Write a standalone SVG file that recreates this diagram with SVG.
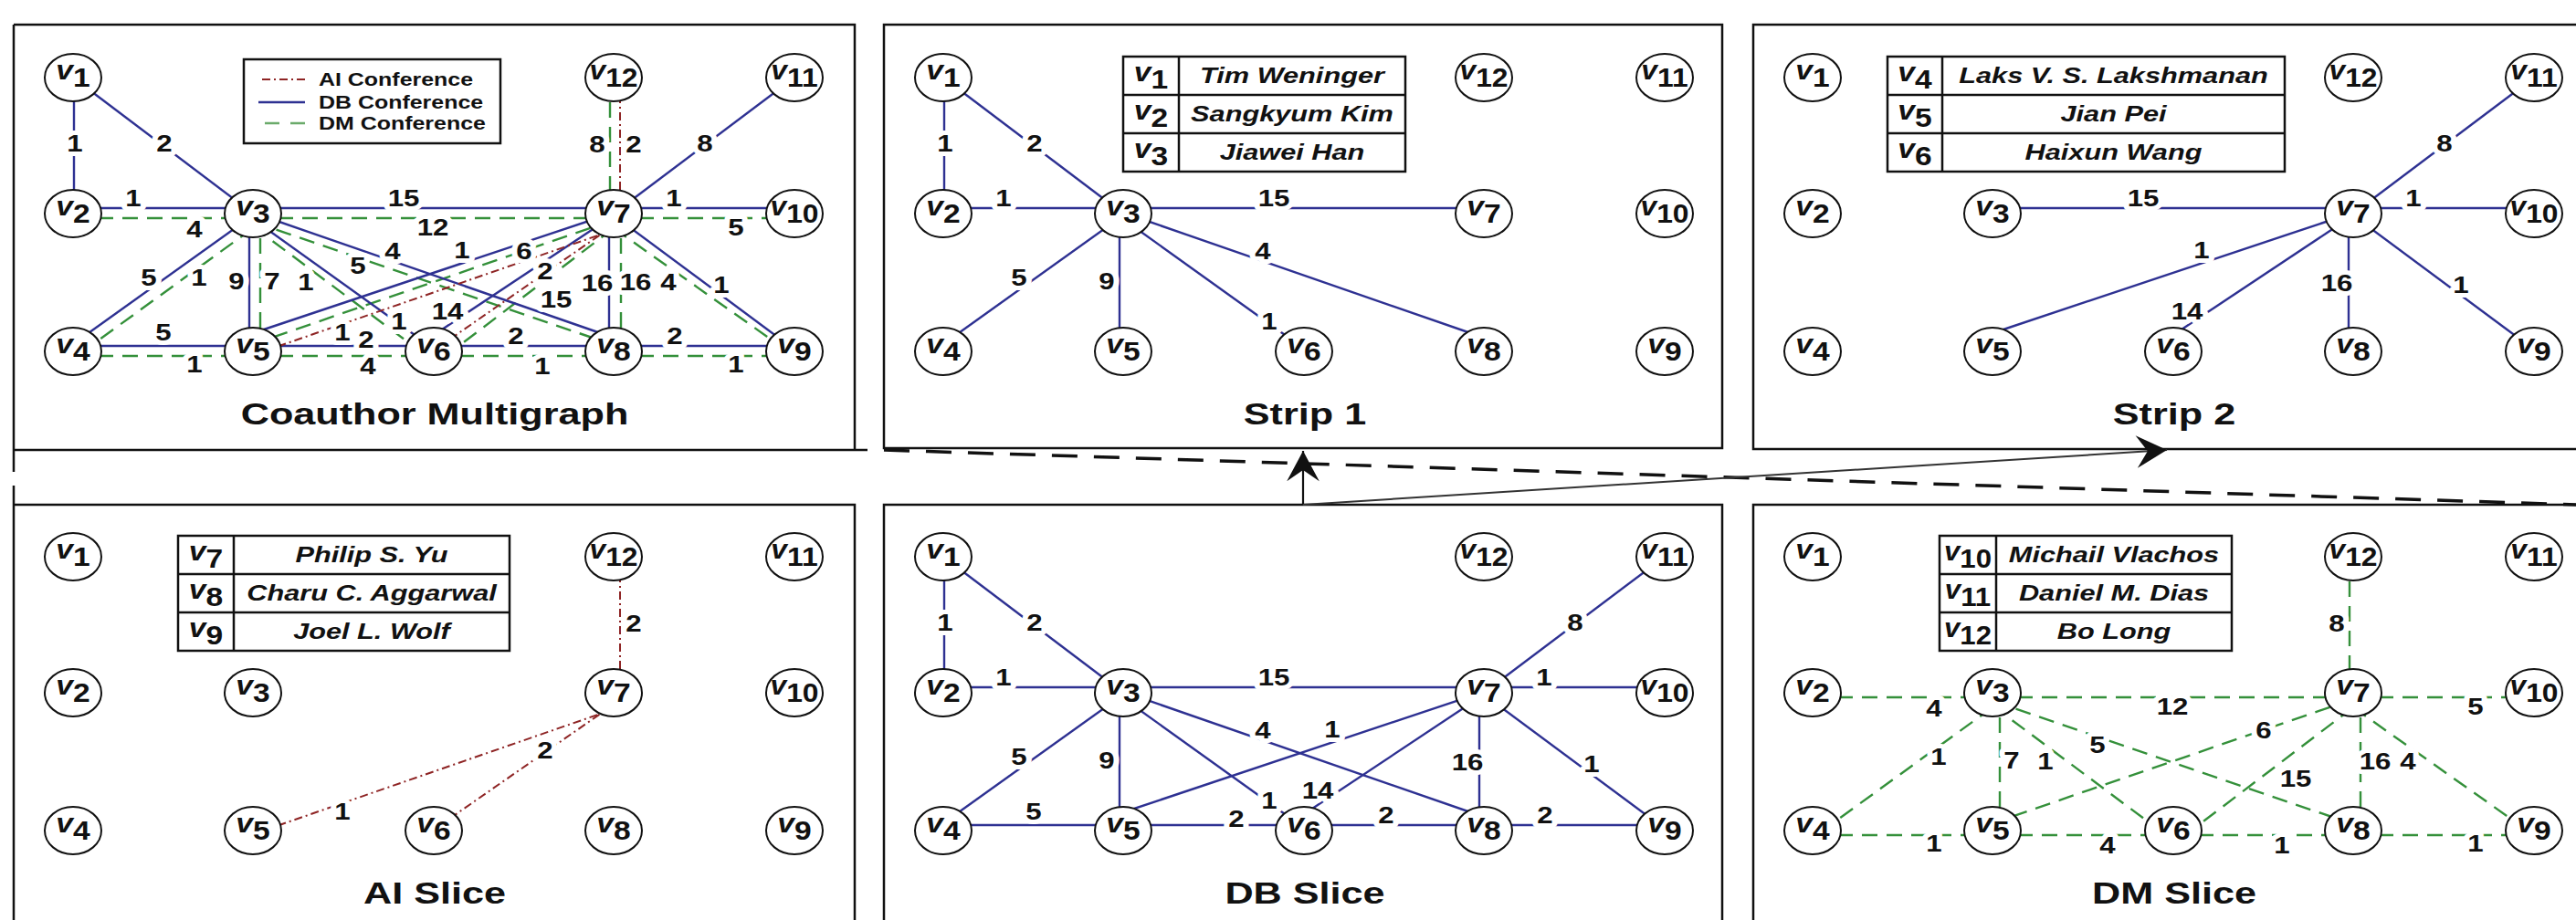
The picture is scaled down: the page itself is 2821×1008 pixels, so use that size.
<svg xmlns="http://www.w3.org/2000/svg" width="2821" height="1008" viewBox="0 0 2821 1008">
<style>
  .frame{fill:none;stroke:#111;stroke-width:2.5}
  .db{stroke:#2e3192;stroke-width:2.4;fill:none}
  .dm{stroke:#34903a;stroke-width:2.4;stroke-dasharray:17 10;fill:none}
  .ai{stroke:#8e2424;stroke-width:2;stroke-dasharray:9 4 2 4;fill:none}
  .nd ellipse{fill:#fff;stroke:#111;stroke-width:2}
  text{font-family:"Liberation Sans",Arial,Helvetica,sans-serif;fill:#111;font-weight:bold}
  .nd text,.tv{font-size:30px;text-anchor:middle}
  .v{font-style:italic}
  .lbl{font-size:26px;text-anchor:middle;stroke:#fff;stroke-width:10;stroke-linejoin:round;paint-order:stroke}
  .ttl{font-size:34px;text-anchor:middle}
  .nm{font-size:24px;font-style:italic;text-anchor:middle}
  .lg{font-size:19.5px}
  .tab{fill:none;stroke:#111;stroke-width:2.5}
</style>
<defs>
  <marker id="ah" markerUnits="userSpaceOnUse" markerWidth="40" markerHeight="40" viewBox="-32 -18 34 36" refX="0" refY="0" orient="auto">
    <path d="M0,0 L-30,-16 L-19,0 L-30,16 Z" fill="#111"/>
  </marker>
  <!-- DB conference edges -->
  <line id="L-db12" class="db" x1="81" y1="85" x2="81" y2="234"/>
  <line id="L-db13" class="db" x1="80" y1="85" x2="277" y2="234"/>
  <line id="L-db23" class="db" x1="80" y1="228" x2="277" y2="228"/>
  <line id="L-db37" class="db" x1="277" y1="228" x2="672" y2="228"/>
  <line id="L-db710" class="db" x1="672" y1="228" x2="870" y2="228"/>
  <line id="L-db711" class="db" x1="672" y1="234" x2="870" y2="85"/>
  <line id="L-db34" class="db" x1="277" y1="236" x2="80" y2="377"/>
  <line id="L-db35" class="db" x1="273" y1="234" x2="273" y2="385"/>
  <line id="L-db36" class="db" x1="277" y1="240" x2="475" y2="382"/>
  <line id="L-db38" class="db" x1="277" y1="233" x2="672" y2="370"/>
  <line id="L-db75" class="db" x1="672" y1="233" x2="277" y2="365"/>
  <line id="L-db76" class="db" x1="672" y1="236" x2="475" y2="367"/>
  <line id="L-db78" class="db" x1="667" y1="234" x2="667" y2="385"/>
  <line id="L-db79" class="db" x1="672" y1="236" x2="870" y2="383"/>
  <line id="L-db45" class="db" x1="80" y1="379" x2="277" y2="379"/>
  <line id="L-db56" class="db" x1="277" y1="379" x2="475" y2="379"/>
  <line id="L-db68" class="db" x1="475" y1="379" x2="672" y2="379"/>
  <line id="L-db89" class="db" x1="672" y1="379" x2="870" y2="379"/>
  <!-- DM conference edges -->
  <line id="L-dm23" class="dm" x1="80" y1="239" x2="277" y2="239"/>
  <line id="L-dm37" class="dm" x1="277" y1="239" x2="672" y2="239"/>
  <line id="L-dm710" class="dm" x1="672" y1="239" x2="870" y2="239"/>
  <line id="L-dm712" class="dm" x1="668" y1="85" x2="668" y2="234"/>
  <line id="L-dm34" class="dm" x1="277" y1="250" x2="80" y2="393"/>
  <line id="L-dm35" class="dm" x1="285" y1="234" x2="285" y2="385"/>
  <line id="L-dm36" class="dm" x1="277" y1="248" x2="475" y2="396"/>
  <line id="L-dm38" class="dm" x1="277" y1="243" x2="672" y2="378"/>
  <line id="L-dm75" class="dm" x1="672" y1="241" x2="277" y2="377"/>
  <line id="L-dm76" class="dm" x1="672" y1="250" x2="475" y2="400"/>
  <line id="L-dm78" class="dm" x1="680" y1="234" x2="680" y2="385"/>
  <line id="L-dm79" class="dm" x1="672" y1="250" x2="870" y2="390"/>
  <line id="L-dm45" class="dm" x1="80" y1="390" x2="277" y2="390"/>
  <line id="L-dm56" class="dm" x1="277" y1="390" x2="475" y2="390"/>
  <line id="L-dm68" class="dm" x1="475" y1="390" x2="672" y2="390"/>
  <line id="L-dm89" class="dm" x1="672" y1="390" x2="870" y2="390"/>
  <!-- AI conference edges -->
  <line id="L-ai712" class="ai" x1="679" y1="85" x2="679" y2="234"/>
  <line id="L-ai75" class="ai" x1="672" y1="252" x2="277" y2="389"/>
  <line id="L-ai76" class="ai" x1="672" y1="247" x2="475" y2="384"/>
  <!-- edge weights -->
  <text id="T-db12" class="lbl" transform="translate(82,166) scale(1.2,1)">1</text>
  <text id="T-db13" class="lbl" transform="translate(180,166) scale(1.2,1)">2</text>
  <text id="T-db23" class="lbl" transform="translate(146,226) scale(1.2,1)">1</text>
  <text id="T-db37" class="lbl" transform="translate(442,226) scale(1.2,1)">15</text>
  <text id="T-db710" class="lbl" transform="translate(738,226) scale(1.2,1)">1</text>
  <text id="T-db711" class="lbl" transform="translate(772,166) scale(1.2,1)">8</text>
  <text id="T-db34" class="lbl" transform="translate(163,313) scale(1.2,1)">5</text>
  <text id="T-db35" class="lbl" transform="translate(259,317) scale(1.2,1)">9</text>
  <text id="T-db36" class="lbl" transform="translate(437,361) scale(1.2,1)">1</text>
  <text id="T-db38" class="lbl" transform="translate(430,284) scale(1.2,1)">4</text>
  <text id="T-db75" class="lbl" transform="translate(506,283) scale(1.2,1)">1</text>
  <text id="T-db76" class="lbl" transform="translate(490,350) scale(1.2,1)">14</text>
  <text id="T-db78" class="lbl" transform="translate(654,319) scale(1.2,1)">16</text>
  <text id="T-db79" class="lbl" transform="translate(790,321) scale(1.2,1)">1</text>
  <text id="T-db45" class="lbl" transform="translate(179,373) scale(1.2,1)">5</text>
  <text id="T-db56" class="lbl" transform="translate(401,381) scale(1.2,1)">2</text>
  <text id="T-db68" class="lbl" transform="translate(565,377) scale(1.2,1)">2</text>
  <text id="T-db89" class="lbl" transform="translate(739,377) scale(1.2,1)">2</text>
  <text id="T-dm23" class="lbl" transform="translate(213,260) scale(1.2,1)">4</text>
  <text id="T-dm37" class="lbl" transform="translate(474,258) scale(1.2,1)">12</text>
  <text id="T-dm710" class="lbl" transform="translate(806,258) scale(1.2,1)">5</text>
  <text id="T-dm712" class="lbl" transform="translate(654,167) scale(1.2,1)">8</text>
  <text id="T-dm34" class="lbl" transform="translate(218,313) scale(1.2,1)">1</text>
  <text id="T-dm35" class="lbl" transform="translate(298,317) scale(1.2,1)">7</text>
  <text id="T-dm36" class="lbl" transform="translate(335,318) scale(1.2,1)">1</text>
  <text id="T-dm38" class="lbl" transform="translate(392,300) scale(1.2,1)">5</text>
  <text id="T-dm75" class="lbl" transform="translate(574,284) scale(1.2,1)">6</text>
  <text id="T-dm76" class="lbl" transform="translate(609,337) scale(1.2,1)">15</text>
  <text id="T-dm78" class="lbl" transform="translate(696,318) scale(1.2,1)">16</text>
  <text id="T-dm79" class="lbl" transform="translate(732,318) scale(1.2,1)">4</text>
  <text id="T-dm45" class="lbl" transform="translate(213,408) scale(1.2,1)">1</text>
  <text id="T-dm56" class="lbl" transform="translate(403,410) scale(1.2,1)">4</text>
  <text id="T-dm68" class="lbl" transform="translate(594,410) scale(1.2,1)">1</text>
  <text id="T-dm89" class="lbl" transform="translate(806,408) scale(1.2,1)">1</text>
  <text id="T-ai712" class="lbl" transform="translate(694,167) scale(1.2,1)">2</text>
  <text id="T-ai75" class="lbl" transform="translate(375,373) scale(1.2,1)">1</text>
  <text id="T-ai76" class="lbl" transform="translate(597,306) scale(1.2,1)">2</text>
</defs>

<rect width="2821" height="1008" fill="#fff"/>

<!-- panel frames and the arrows between them -->
<g id="frames">
  <path class="frame" d="M15,27 V517 M15,27 H936 V493 M15,493 H950"/>
  <rect class="frame" x="968" y="27" width="918" height="464"/>
  <rect class="frame" x="1920" y="27" width="930" height="465"/>
  <path class="frame" d="M15,532 V1020 M15,553 H936 V1020"/>
  <rect class="frame" x="968" y="553" width="918" height="500"/>
  <rect class="frame" x="1920" y="553" width="930" height="500"/>
</g>
<g id="flow">
  <line x1="968" y1="493" x2="2821" y2="553" stroke="#111" stroke-width="3.5" stroke-dasharray="28 18"/>
  <line x1="1427" y1="553" x2="1427" y2="494" stroke="#111" stroke-width="2.2" marker-end="url(#ah)"/>
  <line x1="1427" y1="553" x2="2373" y2="493" stroke="#333" stroke-width="2" marker-end="url(#ah)"/>
</g>

<!-- Coauthor Multigraph -->
<g id="panel-multigraph">
  <g id="mg-connectors">
    <use href="#L-dm23"/><use href="#L-dm37"/><use href="#L-dm710"/><use href="#L-dm712"/><use href="#L-dm34"/><use href="#L-dm35"/><use href="#L-dm36"/><use href="#L-dm38"/><use href="#L-dm75"/><use href="#L-dm76"/><use href="#L-dm78"/><use href="#L-dm79"/><use href="#L-dm45"/><use href="#L-dm56"/><use href="#L-dm68"/><use href="#L-dm89"/>
    <use href="#L-db12"/><use href="#L-db13"/><use href="#L-db23"/><use href="#L-db37"/><use href="#L-db710"/><use href="#L-db711"/><use href="#L-db34"/><use href="#L-db35"/><use href="#L-db36"/><use href="#L-db38"/><use href="#L-db75"/><use href="#L-db76"/><use href="#L-db78"/><use href="#L-db79"/><use href="#L-db45"/><use href="#L-db56"/><use href="#L-db68"/><use href="#L-db89"/>
    <use href="#L-ai712"/><use href="#L-ai75"/><use href="#L-ai76"/>
    <use href="#T-dm23"/><use href="#T-dm37"/><use href="#T-dm710"/><use href="#T-dm712"/><use href="#T-dm34"/><use href="#T-dm35"/><use href="#T-dm36"/><use href="#T-dm38"/><use href="#T-dm75"/><use href="#T-dm76"/><use href="#T-dm78"/><use href="#T-dm79"/><use href="#T-dm45"/><use href="#T-dm56"/><use href="#T-dm68"/><use href="#T-dm89"/>
    <use href="#T-db12"/><use href="#T-db13"/><use href="#T-db23"/><use href="#T-db37"/><use href="#T-db710"/><use href="#T-db711"/><use href="#T-db34"/><use href="#T-db35"/><use href="#T-db36"/><use href="#T-db38"/><use href="#T-db75"/><use href="#T-db76"/><use href="#T-db78"/><use href="#T-db79"/><use href="#T-db45"/><use href="#T-db56"/><use href="#T-db68"/><use href="#T-db89"/>
    <use href="#T-ai712"/><use href="#T-ai75"/><use href="#T-ai76"/>
  </g>
  <g id="mg-legend">
    <rect class="tab" x="267" y="65" width="281" height="92"/>
    <line class="ai" x1="287" y1="87" x2="335" y2="87"/>
    <line class="db" x1="283" y1="112" x2="334" y2="112"/>
    <line class="dm" x1="290" y1="135" x2="334" y2="135" style="stroke:#6aaa6a;stroke-dasharray:16 12"/>
    <text class="lg" transform="translate(349,94) scale(1.28,1)">AI Conference</text>
    <text class="lg" transform="translate(349,119) scale(1.28,1)">DB Conference</text>
    <text class="lg" transform="translate(349,142) scale(1.28,1)">DM Conference</text>
  </g>
  <g id="mg-v1" class="nd" transform="translate(80,85)"><ellipse rx="31" ry="26"/><text y="2" transform="scale(1.12,1)"><tspan class="v">v</tspan><tspan dy="8">1</tspan></text></g>
  <g id="mg-v12" class="nd" transform="translate(672,85)"><ellipse rx="31" ry="26"/><text y="2" transform="scale(1.06,1)"><tspan class="v">v</tspan><tspan dy="8">12</tspan></text></g>
  <g id="mg-v11" class="nd" transform="translate(870,85)"><ellipse rx="31" ry="26"/><text y="2" transform="scale(1.06,1)"><tspan class="v">v</tspan><tspan dy="8">11</tspan></text></g>
  <g id="mg-v2" class="nd" transform="translate(80,234)"><ellipse rx="31" ry="26"/><text y="2" transform="scale(1.12,1)"><tspan class="v">v</tspan><tspan dy="8">2</tspan></text></g>
  <g id="mg-v3" class="nd" transform="translate(277,234)"><ellipse rx="31" ry="26"/><text y="2" transform="scale(1.12,1)"><tspan class="v">v</tspan><tspan dy="8">3</tspan></text></g>
  <g id="mg-v7" class="nd" transform="translate(672,234)"><ellipse rx="31" ry="26"/><text y="2" transform="scale(1.12,1)"><tspan class="v">v</tspan><tspan dy="8">7</tspan></text></g>
  <g id="mg-v10" class="nd" transform="translate(870,234)"><ellipse rx="31" ry="26"/><text y="2" transform="scale(1.06,1)"><tspan class="v">v</tspan><tspan dy="8">10</tspan></text></g>
  <g id="mg-v4" class="nd" transform="translate(80,385)"><ellipse rx="31" ry="26"/><text y="2" transform="scale(1.12,1)"><tspan class="v">v</tspan><tspan dy="8">4</tspan></text></g>
  <g id="mg-v5" class="nd" transform="translate(277,385)"><ellipse rx="31" ry="26"/><text y="2" transform="scale(1.12,1)"><tspan class="v">v</tspan><tspan dy="8">5</tspan></text></g>
  <g id="mg-v6" class="nd" transform="translate(475,385)"><ellipse rx="31" ry="26"/><text y="2" transform="scale(1.12,1)"><tspan class="v">v</tspan><tspan dy="8">6</tspan></text></g>
  <g id="mg-v8" class="nd" transform="translate(672,385)"><ellipse rx="31" ry="26"/><text y="2" transform="scale(1.12,1)"><tspan class="v">v</tspan><tspan dy="8">8</tspan></text></g>
  <g id="mg-v9" class="nd" transform="translate(870,385)"><ellipse rx="31" ry="26"/><text y="2" transform="scale(1.12,1)"><tspan class="v">v</tspan><tspan dy="8">9</tspan></text></g>
  <text class="ttl" transform="translate(476,465) scale(1.27,1)">Coauthor Multigraph</text>
</g>

<!-- Strip 1 -->
<g id="panel-strip1" transform="translate(953,0)">
  <g id="s1-connectors">
    <use href="#L-db12"/><use href="#L-db13"/><use href="#L-db23"/><use href="#L-db37"/><use href="#L-db34"/><use href="#L-db35"/><use href="#L-db36"/><use href="#L-db38"/>
    <use href="#T-db12"/><use href="#T-db13"/><use href="#T-db23"/><use href="#T-db37"/><use href="#T-db34"/><use href="#T-db35"/><use href="#T-db36"/><use href="#T-db38"/>
  </g>
  <g id="s1-names">
    <rect class="tab" x="277" y="62" width="309" height="126"/>
    <path class="tab" d="M338,62 V188 M277,104 H586 M277,146 H586"/>
    <text class="tv" transform="translate(307.5,89) scale(1.12,1)"><tspan class="v">v</tspan><tspan dy="8">1</tspan></text>
    <text class="tv" transform="translate(307.5,131) scale(1.12,1)"><tspan class="v">v</tspan><tspan dy="8">2</tspan></text>
    <text class="tv" transform="translate(307.5,173) scale(1.12,1)"><tspan class="v">v</tspan><tspan dy="8">3</tspan></text>
    <text class="nm" transform="translate(462,91) scale(1.28,1)">Tim Weninger</text>
    <text class="nm" transform="translate(462,133) scale(1.28,1)">Sangkyum Kim</text>
    <text class="nm" transform="translate(462,175) scale(1.28,1)">Jiawei Han</text>
  </g>
  <g id="s1-v1" class="nd" transform="translate(80,85)"><ellipse rx="31" ry="26"/><text y="2" transform="scale(1.12,1)"><tspan class="v">v</tspan><tspan dy="8">1</tspan></text></g>
  <g id="s1-v12" class="nd" transform="translate(672,85)"><ellipse rx="31" ry="26"/><text y="2" transform="scale(1.06,1)"><tspan class="v">v</tspan><tspan dy="8">12</tspan></text></g>
  <g id="s1-v11" class="nd" transform="translate(870,85)"><ellipse rx="31" ry="26"/><text y="2" transform="scale(1.06,1)"><tspan class="v">v</tspan><tspan dy="8">11</tspan></text></g>
  <g id="s1-v2" class="nd" transform="translate(80,234)"><ellipse rx="31" ry="26"/><text y="2" transform="scale(1.12,1)"><tspan class="v">v</tspan><tspan dy="8">2</tspan></text></g>
  <g id="s1-v3" class="nd" transform="translate(277,234)"><ellipse rx="31" ry="26"/><text y="2" transform="scale(1.12,1)"><tspan class="v">v</tspan><tspan dy="8">3</tspan></text></g>
  <g id="s1-v7" class="nd" transform="translate(672,234)"><ellipse rx="31" ry="26"/><text y="2" transform="scale(1.12,1)"><tspan class="v">v</tspan><tspan dy="8">7</tspan></text></g>
  <g id="s1-v10" class="nd" transform="translate(870,234)"><ellipse rx="31" ry="26"/><text y="2" transform="scale(1.06,1)"><tspan class="v">v</tspan><tspan dy="8">10</tspan></text></g>
  <g id="s1-v4" class="nd" transform="translate(80,385)"><ellipse rx="31" ry="26"/><text y="2" transform="scale(1.12,1)"><tspan class="v">v</tspan><tspan dy="8">4</tspan></text></g>
  <g id="s1-v5" class="nd" transform="translate(277,385)"><ellipse rx="31" ry="26"/><text y="2" transform="scale(1.12,1)"><tspan class="v">v</tspan><tspan dy="8">5</tspan></text></g>
  <g id="s1-v6" class="nd" transform="translate(475,385)"><ellipse rx="31" ry="26"/><text y="2" transform="scale(1.12,1)"><tspan class="v">v</tspan><tspan dy="8">6</tspan></text></g>
  <g id="s1-v8" class="nd" transform="translate(672,385)"><ellipse rx="31" ry="26"/><text y="2" transform="scale(1.12,1)"><tspan class="v">v</tspan><tspan dy="8">8</tspan></text></g>
  <g id="s1-v9" class="nd" transform="translate(870,385)"><ellipse rx="31" ry="26"/><text y="2" transform="scale(1.12,1)"><tspan class="v">v</tspan><tspan dy="8">9</tspan></text></g>
  <text class="ttl" transform="translate(476,465) scale(1.27,1)">Strip 1</text>
</g>

<!-- Strip 2 -->
<g id="panel-strip2" transform="translate(1905,0)">
  <g id="s2-connectors">
    <use href="#L-db37"/><use href="#L-db711"/><use href="#L-db710"/><use href="#L-db75"/><use href="#L-db76"/><use href="#L-db78"/><use href="#L-db79"/>
    <use href="#T-db37"/><use href="#T-db711"/><use href="#T-db710"/><use href="#T-db75"/><use href="#T-db76"/><use href="#T-db78"/><use href="#T-db79"/>
  </g>
  <g id="s2-names">
    <rect class="tab" x="162" y="62" width="435" height="126"/>
    <path class="tab" d="M222,62 V188 M162,104 H597 M162,146 H597"/>
    <text class="tv" transform="translate(192,89) scale(1.12,1)"><tspan class="v">v</tspan><tspan dy="8">4</tspan></text>
    <text class="tv" transform="translate(192,131) scale(1.12,1)"><tspan class="v">v</tspan><tspan dy="8">5</tspan></text>
    <text class="tv" transform="translate(192,173) scale(1.12,1)"><tspan class="v">v</tspan><tspan dy="8">6</tspan></text>
    <text class="nm" transform="translate(409.5,91) scale(1.28,1)">Laks V. S. Lakshmanan</text>
    <text class="nm" transform="translate(409.5,133) scale(1.28,1)">Jian Pei</text>
    <text class="nm" transform="translate(409.5,175) scale(1.28,1)">Haixun Wang</text>
  </g>
  <g id="s2-v1" class="nd" transform="translate(80,85)"><ellipse rx="31" ry="26"/><text y="2" transform="scale(1.12,1)"><tspan class="v">v</tspan><tspan dy="8">1</tspan></text></g>
  <g id="s2-v12" class="nd" transform="translate(672,85)"><ellipse rx="31" ry="26"/><text y="2" transform="scale(1.06,1)"><tspan class="v">v</tspan><tspan dy="8">12</tspan></text></g>
  <g id="s2-v11" class="nd" transform="translate(870,85)"><ellipse rx="31" ry="26"/><text y="2" transform="scale(1.06,1)"><tspan class="v">v</tspan><tspan dy="8">11</tspan></text></g>
  <g id="s2-v2" class="nd" transform="translate(80,234)"><ellipse rx="31" ry="26"/><text y="2" transform="scale(1.12,1)"><tspan class="v">v</tspan><tspan dy="8">2</tspan></text></g>
  <g id="s2-v3" class="nd" transform="translate(277,234)"><ellipse rx="31" ry="26"/><text y="2" transform="scale(1.12,1)"><tspan class="v">v</tspan><tspan dy="8">3</tspan></text></g>
  <g id="s2-v7" class="nd" transform="translate(672,234)"><ellipse rx="31" ry="26"/><text y="2" transform="scale(1.12,1)"><tspan class="v">v</tspan><tspan dy="8">7</tspan></text></g>
  <g id="s2-v10" class="nd" transform="translate(870,234)"><ellipse rx="31" ry="26"/><text y="2" transform="scale(1.06,1)"><tspan class="v">v</tspan><tspan dy="8">10</tspan></text></g>
  <g id="s2-v4" class="nd" transform="translate(80,385)"><ellipse rx="31" ry="26"/><text y="2" transform="scale(1.12,1)"><tspan class="v">v</tspan><tspan dy="8">4</tspan></text></g>
  <g id="s2-v5" class="nd" transform="translate(277,385)"><ellipse rx="31" ry="26"/><text y="2" transform="scale(1.12,1)"><tspan class="v">v</tspan><tspan dy="8">5</tspan></text></g>
  <g id="s2-v6" class="nd" transform="translate(475,385)"><ellipse rx="31" ry="26"/><text y="2" transform="scale(1.12,1)"><tspan class="v">v</tspan><tspan dy="8">6</tspan></text></g>
  <g id="s2-v8" class="nd" transform="translate(672,385)"><ellipse rx="31" ry="26"/><text y="2" transform="scale(1.12,1)"><tspan class="v">v</tspan><tspan dy="8">8</tspan></text></g>
  <g id="s2-v9" class="nd" transform="translate(870,385)"><ellipse rx="31" ry="26"/><text y="2" transform="scale(1.12,1)"><tspan class="v">v</tspan><tspan dy="8">9</tspan></text></g>
  <text class="ttl" transform="translate(476,465) scale(1.27,1)">Strip 2</text>
</g>

<!-- AI Slice -->
<g id="panel-ai" transform="translate(0,525)">
  <g id="ai-connectors">
    <use href="#L-ai712"/><use href="#L-ai75"/><use href="#L-ai76"/>
    <use href="#T-ai712"/><use href="#T-ai75"/><use href="#T-ai76"/>
  </g>
  <g id="ai-names">
    <rect class="tab" x="195" y="62" width="363" height="126"/>
    <path class="tab" d="M256,62 V188 M195,104 H558 M195,146 H558"/>
    <text class="tv" transform="translate(225.5,89) scale(1.12,1)"><tspan class="v">v</tspan><tspan dy="8">7</tspan></text>
    <text class="tv" transform="translate(225.5,131) scale(1.12,1)"><tspan class="v">v</tspan><tspan dy="8">8</tspan></text>
    <text class="tv" transform="translate(225.5,173) scale(1.12,1)"><tspan class="v">v</tspan><tspan dy="8">9</tspan></text>
    <text class="nm" transform="translate(407,91) scale(1.28,1)">Philip S. Yu</text>
    <text class="nm" transform="translate(407,133) scale(1.28,1)">Charu C. Aggarwal</text>
    <text class="nm" transform="translate(407,175) scale(1.28,1)">Joel L. Wolf</text>
  </g>
  <g id="ai-v1" class="nd" transform="translate(80,85)"><ellipse rx="31" ry="26"/><text y="2" transform="scale(1.12,1)"><tspan class="v">v</tspan><tspan dy="8">1</tspan></text></g>
  <g id="ai-v12" class="nd" transform="translate(672,85)"><ellipse rx="31" ry="26"/><text y="2" transform="scale(1.06,1)"><tspan class="v">v</tspan><tspan dy="8">12</tspan></text></g>
  <g id="ai-v11" class="nd" transform="translate(870,85)"><ellipse rx="31" ry="26"/><text y="2" transform="scale(1.06,1)"><tspan class="v">v</tspan><tspan dy="8">11</tspan></text></g>
  <g id="ai-v2" class="nd" transform="translate(80,234)"><ellipse rx="31" ry="26"/><text y="2" transform="scale(1.12,1)"><tspan class="v">v</tspan><tspan dy="8">2</tspan></text></g>
  <g id="ai-v3" class="nd" transform="translate(277,234)"><ellipse rx="31" ry="26"/><text y="2" transform="scale(1.12,1)"><tspan class="v">v</tspan><tspan dy="8">3</tspan></text></g>
  <g id="ai-v7" class="nd" transform="translate(672,234)"><ellipse rx="31" ry="26"/><text y="2" transform="scale(1.12,1)"><tspan class="v">v</tspan><tspan dy="8">7</tspan></text></g>
  <g id="ai-v10" class="nd" transform="translate(870,234)"><ellipse rx="31" ry="26"/><text y="2" transform="scale(1.06,1)"><tspan class="v">v</tspan><tspan dy="8">10</tspan></text></g>
  <g id="ai-v4" class="nd" transform="translate(80,385)"><ellipse rx="31" ry="26"/><text y="2" transform="scale(1.12,1)"><tspan class="v">v</tspan><tspan dy="8">4</tspan></text></g>
  <g id="ai-v5" class="nd" transform="translate(277,385)"><ellipse rx="31" ry="26"/><text y="2" transform="scale(1.12,1)"><tspan class="v">v</tspan><tspan dy="8">5</tspan></text></g>
  <g id="ai-v6" class="nd" transform="translate(475,385)"><ellipse rx="31" ry="26"/><text y="2" transform="scale(1.12,1)"><tspan class="v">v</tspan><tspan dy="8">6</tspan></text></g>
  <g id="ai-v8" class="nd" transform="translate(672,385)"><ellipse rx="31" ry="26"/><text y="2" transform="scale(1.12,1)"><tspan class="v">v</tspan><tspan dy="8">8</tspan></text></g>
  <g id="ai-v9" class="nd" transform="translate(870,385)"><ellipse rx="31" ry="26"/><text y="2" transform="scale(1.12,1)"><tspan class="v">v</tspan><tspan dy="8">9</tspan></text></g>
  <text class="ttl" transform="translate(476,465) scale(1.27,1)">AI Slice</text>
</g>

<!-- DB Slice -->
<g id="panel-db" transform="translate(953,525)">
  <g id="db-connectors">
    <use href="#L-db12"/><use href="#L-db13"/><use href="#L-db23"/><use href="#L-db37"/><use href="#L-db710"/><use href="#L-db711"/><use href="#L-db34"/><use href="#L-db35"/><use href="#L-db36"/><use href="#L-db38"/><use href="#L-db75"/><use href="#L-db76"/><use href="#L-db78"/><use href="#L-db79"/><use href="#L-db45"/><use href="#L-db56"/><use href="#L-db68"/><use href="#L-db89"/>
    <use href="#T-db12"/><use href="#T-db13"/><use href="#T-db23"/><use href="#T-db37"/><use href="#T-db710"/><use href="#T-db711"/><use href="#T-db34"/><use href="#T-db35"/><use href="#T-db36"/><use href="#T-db38"/><use href="#T-db75"/><use href="#T-db76"/><use href="#T-db78"/><use href="#T-db79"/><use href="#T-db45"/><use href="#T-db56"/><use href="#T-db68"/><use href="#T-db89"/>
  </g>
  <g id="db-v1" class="nd" transform="translate(80,85)"><ellipse rx="31" ry="26"/><text y="2" transform="scale(1.12,1)"><tspan class="v">v</tspan><tspan dy="8">1</tspan></text></g>
  <g id="db-v12" class="nd" transform="translate(672,85)"><ellipse rx="31" ry="26"/><text y="2" transform="scale(1.06,1)"><tspan class="v">v</tspan><tspan dy="8">12</tspan></text></g>
  <g id="db-v11" class="nd" transform="translate(870,85)"><ellipse rx="31" ry="26"/><text y="2" transform="scale(1.06,1)"><tspan class="v">v</tspan><tspan dy="8">11</tspan></text></g>
  <g id="db-v2" class="nd" transform="translate(80,234)"><ellipse rx="31" ry="26"/><text y="2" transform="scale(1.12,1)"><tspan class="v">v</tspan><tspan dy="8">2</tspan></text></g>
  <g id="db-v3" class="nd" transform="translate(277,234)"><ellipse rx="31" ry="26"/><text y="2" transform="scale(1.12,1)"><tspan class="v">v</tspan><tspan dy="8">3</tspan></text></g>
  <g id="db-v7" class="nd" transform="translate(672,234)"><ellipse rx="31" ry="26"/><text y="2" transform="scale(1.12,1)"><tspan class="v">v</tspan><tspan dy="8">7</tspan></text></g>
  <g id="db-v10" class="nd" transform="translate(870,234)"><ellipse rx="31" ry="26"/><text y="2" transform="scale(1.06,1)"><tspan class="v">v</tspan><tspan dy="8">10</tspan></text></g>
  <g id="db-v4" class="nd" transform="translate(80,385)"><ellipse rx="31" ry="26"/><text y="2" transform="scale(1.12,1)"><tspan class="v">v</tspan><tspan dy="8">4</tspan></text></g>
  <g id="db-v5" class="nd" transform="translate(277,385)"><ellipse rx="31" ry="26"/><text y="2" transform="scale(1.12,1)"><tspan class="v">v</tspan><tspan dy="8">5</tspan></text></g>
  <g id="db-v6" class="nd" transform="translate(475,385)"><ellipse rx="31" ry="26"/><text y="2" transform="scale(1.12,1)"><tspan class="v">v</tspan><tspan dy="8">6</tspan></text></g>
  <g id="db-v8" class="nd" transform="translate(672,385)"><ellipse rx="31" ry="26"/><text y="2" transform="scale(1.12,1)"><tspan class="v">v</tspan><tspan dy="8">8</tspan></text></g>
  <g id="db-v9" class="nd" transform="translate(870,385)"><ellipse rx="31" ry="26"/><text y="2" transform="scale(1.12,1)"><tspan class="v">v</tspan><tspan dy="8">9</tspan></text></g>
  <text class="ttl" transform="translate(476,465) scale(1.27,1)">DB Slice</text>
</g>

<!-- DM Slice -->
<g id="panel-dm" transform="translate(1905,525)">
  <g id="dm-connectors">
    <use href="#L-dm23"/><use href="#L-dm37"/><use href="#L-dm710"/><use href="#L-dm712"/><use href="#L-dm34"/><use href="#L-dm35"/><use href="#L-dm36"/><use href="#L-dm38"/><use href="#L-dm75"/><use href="#L-dm76"/><use href="#L-dm78"/><use href="#L-dm79"/><use href="#L-dm45"/><use href="#L-dm56"/><use href="#L-dm68"/><use href="#L-dm89"/>
    <use href="#T-dm23"/><use href="#T-dm37"/><use href="#T-dm710"/><use href="#T-dm712"/><use href="#T-dm34"/><use href="#T-dm35"/><use href="#T-dm36"/><use href="#T-dm38"/><use href="#T-dm75"/><use href="#T-dm76"/><use href="#T-dm78"/><use href="#T-dm79"/><use href="#T-dm45"/><use href="#T-dm56"/><use href="#T-dm68"/><use href="#T-dm89"/>
  </g>
  <g id="dm-names">
    <rect class="tab" x="219" y="62" width="320" height="126"/>
    <path class="tab" d="M281,62 V188 M219,104 H539 M219,146 H539"/>
    <text class="tv" transform="translate(250,89) scale(1.04,1)"><tspan class="v">v</tspan><tspan dy="8">10</tspan></text>
    <text class="tv" transform="translate(250,131) scale(1.04,1)"><tspan class="v">v</tspan><tspan dy="8">11</tspan></text>
    <text class="tv" transform="translate(250,173) scale(1.04,1)"><tspan class="v">v</tspan><tspan dy="8">12</tspan></text>
    <text class="nm" transform="translate(410,91) scale(1.28,1)">Michail Vlachos</text>
    <text class="nm" transform="translate(410,133) scale(1.28,1)">Daniel M. Dias</text>
    <text class="nm" transform="translate(410,175) scale(1.28,1)">Bo Long</text>
  </g>
  <g id="dm-v1" class="nd" transform="translate(80,85)"><ellipse rx="31" ry="26"/><text y="2" transform="scale(1.12,1)"><tspan class="v">v</tspan><tspan dy="8">1</tspan></text></g>
  <g id="dm-v12" class="nd" transform="translate(672,85)"><ellipse rx="31" ry="26"/><text y="2" transform="scale(1.06,1)"><tspan class="v">v</tspan><tspan dy="8">12</tspan></text></g>
  <g id="dm-v11" class="nd" transform="translate(870,85)"><ellipse rx="31" ry="26"/><text y="2" transform="scale(1.06,1)"><tspan class="v">v</tspan><tspan dy="8">11</tspan></text></g>
  <g id="dm-v2" class="nd" transform="translate(80,234)"><ellipse rx="31" ry="26"/><text y="2" transform="scale(1.12,1)"><tspan class="v">v</tspan><tspan dy="8">2</tspan></text></g>
  <g id="dm-v3" class="nd" transform="translate(277,234)"><ellipse rx="31" ry="26"/><text y="2" transform="scale(1.12,1)"><tspan class="v">v</tspan><tspan dy="8">3</tspan></text></g>
  <g id="dm-v7" class="nd" transform="translate(672,234)"><ellipse rx="31" ry="26"/><text y="2" transform="scale(1.12,1)"><tspan class="v">v</tspan><tspan dy="8">7</tspan></text></g>
  <g id="dm-v10" class="nd" transform="translate(870,234)"><ellipse rx="31" ry="26"/><text y="2" transform="scale(1.06,1)"><tspan class="v">v</tspan><tspan dy="8">10</tspan></text></g>
  <g id="dm-v4" class="nd" transform="translate(80,385)"><ellipse rx="31" ry="26"/><text y="2" transform="scale(1.12,1)"><tspan class="v">v</tspan><tspan dy="8">4</tspan></text></g>
  <g id="dm-v5" class="nd" transform="translate(277,385)"><ellipse rx="31" ry="26"/><text y="2" transform="scale(1.12,1)"><tspan class="v">v</tspan><tspan dy="8">5</tspan></text></g>
  <g id="dm-v6" class="nd" transform="translate(475,385)"><ellipse rx="31" ry="26"/><text y="2" transform="scale(1.12,1)"><tspan class="v">v</tspan><tspan dy="8">6</tspan></text></g>
  <g id="dm-v8" class="nd" transform="translate(672,385)"><ellipse rx="31" ry="26"/><text y="2" transform="scale(1.12,1)"><tspan class="v">v</tspan><tspan dy="8">8</tspan></text></g>
  <g id="dm-v9" class="nd" transform="translate(870,385)"><ellipse rx="31" ry="26"/><text y="2" transform="scale(1.12,1)"><tspan class="v">v</tspan><tspan dy="8">9</tspan></text></g>
  <text class="ttl" transform="translate(476,465) scale(1.27,1)">DM Slice</text>
</g>
</svg>
